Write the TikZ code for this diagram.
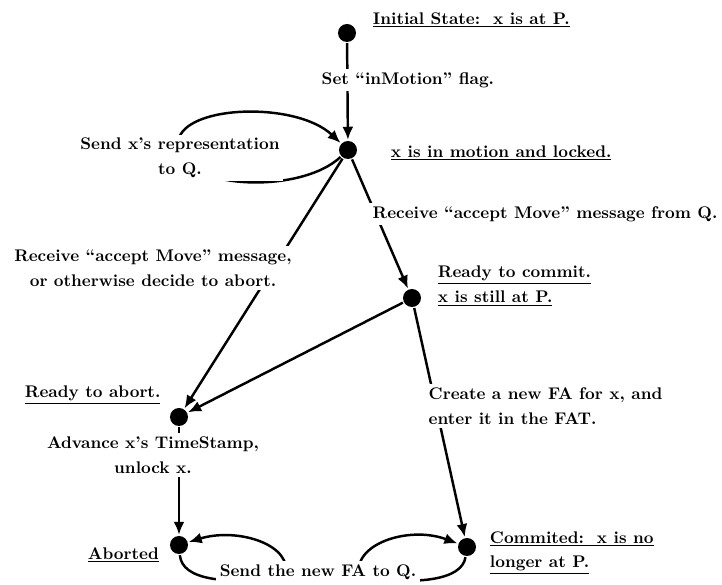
\documentclass[tikz,border=0pt]{standalone}
\usepackage{fontspec}
\usetikzlibrary{arrows.meta}

\tikzset{
  state/.style={circle,fill=black,inner sep=0pt,minimum size=3.6mm},
  descr/.style={anchor=west,inner sep=1pt},
  action/.style={fill=white,inner sep=2pt},
}

\begin{document}
\begin{tikzpicture}[x=0.2mm,y=0.2mm,line width=1.4pt,
    >={Latex[length=2.6mm,width=2.2mm]},
    every node/.style={font=\fontsize{9.6}{14}\selectfont\bfseries}]
	\useasboundingbox (0,0) rectangle (722,585);
	
	% states
	\node[state] (s0) at (347,552) {};
	\node[state] (s1) at (348,435) {};
	\node[state] (s2) at (412,287) {};
	\node[state] (s3) at (179,168) {};
	\node[state] (s4) at (179,40) {};
	\node[state] (s5) at (467,38) {};
	
	% transitions
	\draw[->] (s0) -- (s1);
	\draw[->] (s1) -- (s2);
	\draw[->] (s1) -- (s3);
	\draw[->] (s2) -- (s3);
	\draw[->] (s2) -- (s5);
	\draw[->] (s3) -- (s4);
	\draw[->] (s1) .. controls (300,390) and (180,395) .. (178,440) .. controls (176,480) and (295,485) .. (s1);
	\draw[->] (s4) .. controls (182,5) and (225,0) .. (285,8) .. controls (295,40) and (238,58) .. (s4);
	\draw[->] (s5) .. controls (462,4) and (415,0) .. (360,8) .. controls (350,40) and (408,60) .. (s5);
	
	% state descriptions
	\node[descr] (initlbl) at (370,565) {\underline{Initial State:\ \ x is at P.}};
	\node[descr] (motionlbl) at (388,432) {\underline{x is in motion and locked.}};
	\node[descr,align=left] (commitlbl) at (435,299) {\underline{Ready to commit.}\\\underline{x is still at P.}};
	\node[descr] (abortlbl) at (22,190) {\underline{Ready to abort.}};
	\node[descr] (abortedlbl) at (85,30) {\underline{Aborted}};
	\node[descr,align=left] (commitedlbl) at (487,32) {\underline{Commited:\ \ x is no}\\\underline{longer at P.}};
	
	% actions
	\node[action,anchor=west] (setflag) at (317,505) {Set ``inMotion'' flag.};
	\node[action,align=center] (sendrep) at (180,427) {Send x's representation\\to Q.};
	\node[action,anchor=west] (recvq) at (368,371) {Receive ``accept Move'' message from Q.};
	\node[action,align=center] (recvabort) at (153,317) {Receive ``accept Move'' message,\\or otherwise decide to abort.};
	\node[action,align=center] (advance) at (153,130) {Advance x's TimeStamp,\\unlock x.};
	\node[action,anchor=west,align=left] (create) at (424,179) {Create a new FA for x, and\\enter it in the FAT.};
	\node[action] (sendfa) at (318,13) {Send the new FA to Q.};
\end{tikzpicture}
\end{document}
